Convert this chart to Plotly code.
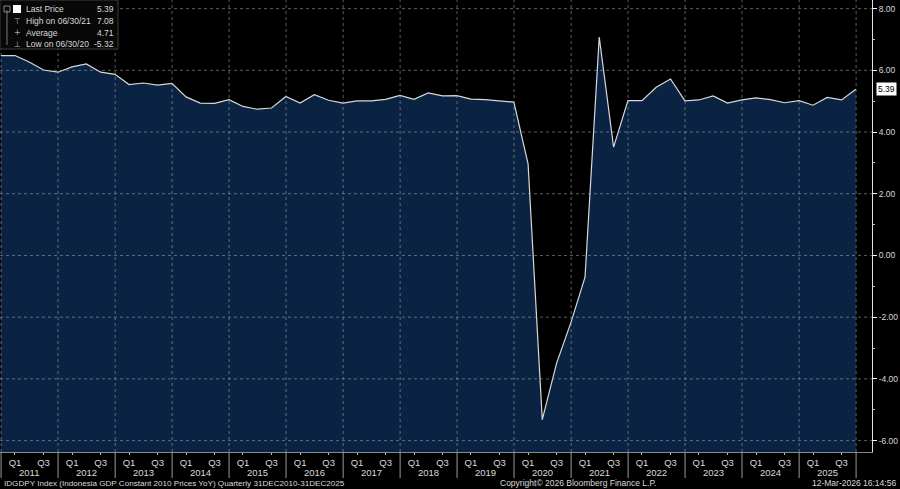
import pandas as pd
import plotly.graph_objects as go

# ---------------- data ----------------
QUARTER_ENDS = pd.date_range("2010-12-31", "2025-12-31", freq="QE")
GDP_YOY = [
    6.48,
    6.48, 6.27, 6.01, 5.94,   # 2011
    6.11, 6.21, 5.94, 5.87,   # 2012
    5.54, 5.59, 5.52, 5.58,   # 2013
    5.14, 4.94, 4.93, 5.05,   # 2014
    4.83, 4.74, 4.78, 5.15,   # 2015
    4.94, 5.21, 5.03, 4.94,   # 2016
    5.01, 5.01, 5.06, 5.19,   # 2017
    5.06, 5.27, 5.17, 5.18,   # 2018
    5.07, 5.05, 5.02, 4.97,   # 2019
    2.97, -5.32, -3.49, -2.17,  # 2020
    -0.70, 7.08, 3.51, 5.02,  # 2021
    5.02, 5.45, 5.72, 5.01,   # 2022
    5.04, 5.17, 4.94, 5.04,   # 2023
    5.11, 5.05, 4.95, 5.02,   # 2024
    4.87, 5.12, 5.04, 5.39,   # 2025
]
YEARS = list(range(2011, 2026))
Y_TICKS = [-6, -4, -2, 0, 2, 4, 6, 8]
LEGEND_LABELS = ["Last Price", "High on 06/30/21", "Average", "Low on 06/30/20"]
LEGEND_VALUES = ["5.39", "7.08", "4.71", "-5.32"]
LAST_VALUE = 5.39
TITLE = "IDGDPY Index (Indonesia GDP Constant 2010 Prices YoY) Quarterly 31DEC2010-31DEC2025"
COPYRIGHT = "Copyright\u00a9 2026 Bloomberg Finance L.P."
STAMP = "12-Mar-2026 16:14:56"

# ---------------- layout constants ----------------
W, H = 900, 489
PW, PH = 872, 452           # plot area in px
Y_MIN, Y_MAX = -6.37, 8.28
X_RANGE = ["2010-12-25", "2026-04-13"]
FILL = "#0b2342"
LINE = "#d8d8d8"
TXT = "#d9d9d9"
GRID = "rgba(170,170,170,0.55)"
FONT = "Liberation Sans"
SMALL = 8.5


def px(x):
    return x / PW


def py(y):
    return 1 - y / PH


fig = go.Figure()
# baseline for area fill
fig.add_trace(go.Scatter(x=QUARTER_ENDS, y=[Y_MIN] * len(QUARTER_ENDS), mode="lines",
                         line=dict(width=0, color=FILL), hoverinfo="skip", showlegend=False))
fig.add_trace(go.Scatter(x=QUARTER_ENDS, y=GDP_YOY, mode="lines", fill="tonexty",
                         fillcolor=FILL, line=dict(color=LINE, width=1.2), showlegend=False))

shapes = []
# horizontal dotted grid
for v in Y_TICKS:
    shapes.append(dict(type="line", xref="paper", yref="y", x0=0, x1=1, y0=v, y1=v,
                       line=dict(color=GRID, width=1, dash="dot"), layer="above"))
# vertical dotted grid at year boundaries + separators in axis area
for yr in YEARS + [2026]:
    d = f"{yr}-01-01"
    shapes.append(dict(type="line", xref="x", yref="paper", x0=d, x1=d, y0=0, y1=1,
                       line=dict(color=GRID, width=1, dash="dot"), layer="above"))
    shapes.append(dict(type="line", xref="x", yref="paper", x0=d, x1=d, y0=0, y1=py(478),
                       line=dict(color="#9a9a9a", width=1), layer="above"))

# legend box
shapes.append(dict(type="rect", xref="paper", yref="paper", x0=px(0), x1=px(118), y0=py(0), y1=py(49),
                   fillcolor="#080808", line=dict(color="#3c3c3c", width=1), layer="above"))
# tree line
shapes.append(dict(type="line", xref="paper", yref="paper", x0=px(7), x1=px(7), y0=py(10), y1=py(45),
                   line=dict(color="#777", width=1), layer="above"))
# white square icon for last price
shapes.append(dict(type="rect", xref="paper", yref="paper", x0=px(13), x1=px(21), y0=py(5), y1=py(13),
                   fillcolor="white", line=dict(width=0), layer="above"))
shapes.append(dict(type="rect", xref="paper", yref="paper", x0=px(4), x1=px(10), y0=py(6), y1=py(12),
                   fillcolor="rgba(0,0,0,0)", line=dict(color="#888", width=1), layer="above"))

annotations = []
row_y = [9, 21, 33, 44]
icons = ["", "\u22a4", "+", "\u22a5"]
for i, (lab, val) in enumerate(zip(LEGEND_LABELS, LEGEND_VALUES)):
    annotations.append(dict(x=px(24), y=py(row_y[i]), xref="paper", yref="paper", text=lab,
                            xanchor="left", yanchor="middle", showarrow=False,
                            font=dict(family=FONT, size=SMALL, color=TXT)))
    annotations.append(dict(x=px(116), y=py(row_y[i]), xref="paper", yref="paper", text=val,
                            xanchor="right", yanchor="middle", showarrow=False,
                            font=dict(family=FONT, size=SMALL, color=TXT)))
    if icons[i]:
        annotations.append(dict(x=px(17), y=py(row_y[i]), xref="paper", yref="paper", text=icons[i],
                                xanchor="center", yanchor="middle", showarrow=False,
                                font=dict(family="DejaVu Sans", size=8, color="#aaa")))

# year labels
for yr in YEARS:
    annotations.append(dict(x=f"{yr}-07-01", y=py(472), xref="x", yref="paper", text=str(yr),
                            xanchor="center", yanchor="middle", showarrow=False,
                            font=dict(family=FONT, size=9.5, color=TXT)))

# footer
annotations.append(dict(x=px(2), y=py(483), xref="paper", yref="paper", text=TITLE, xanchor="left",
                        yanchor="middle", showarrow=False, font=dict(family=FONT, size=8.1, color=TXT)))
annotations.append(dict(x=px(578), y=py(483), xref="paper", yref="paper", text=COPYRIGHT, xanchor="center",
                        yanchor="middle", showarrow=False, font=dict(family=FONT, size=SMALL, color=TXT)))
annotations.append(dict(x=px(898), y=py(483), xref="paper", yref="paper", text=STAMP, xanchor="right",
                        yanchor="middle", showarrow=False, font=dict(family=FONT, size=SMALL, color=TXT)))

# last price tag
annotations.append(dict(x=px(876), y=LAST_VALUE, xref="paper", yref="y", text=f"{LAST_VALUE:.2f}",
                        xanchor="left", yanchor="middle", showarrow=False, bgcolor="white",
                        borderpad=1, font=dict(family=FONT, size=SMALL, color="black")))

q_vals, q_text = [], []
for yr in YEARS:
    q_vals += [f"{yr}-03-31", f"{yr}-09-30"]
    q_text += ["Q1", "Q3"]

fig.update_layout(
    width=W, height=H,
    margin=dict(l=0, r=W - PW, t=0, b=H - PH, autoexpand=False),
    paper_bgcolor="black", plot_bgcolor="black",
    showlegend=False,
    shapes=shapes, annotations=annotations,
    xaxis=dict(type="date", range=X_RANGE, tickvals=q_vals, ticktext=q_text, automargin=False,
               tickfont=dict(family=FONT, size=9.5, color=TXT), ticks="outside", ticklen=2,
               tickcolor="#bbb", showgrid=False, zeroline=False, showline=True,
               linecolor="#888", linewidth=1),
    yaxis=dict(side="right", range=[Y_MIN, Y_MAX], tickvals=Y_TICKS, automargin=False,
               ticktext=[f"{v:.2f}" for v in Y_TICKS],
               tickfont=dict(family=FONT, size=SMALL, color=TXT), ticks="outside", ticklen=4,
               tickcolor="white", showgrid=False, zeroline=False, showline=True,
               linecolor="#e0e0e0", linewidth=1,
               minor=dict(dtick=1, tick0=0, ticks="outside", ticklen=2, tickcolor="#bbb")),
)

fig.write_html("out.html", config={"displayModeBar": False},
               post_script="document.body.style.margin='0';document.body.style.background='black';")
